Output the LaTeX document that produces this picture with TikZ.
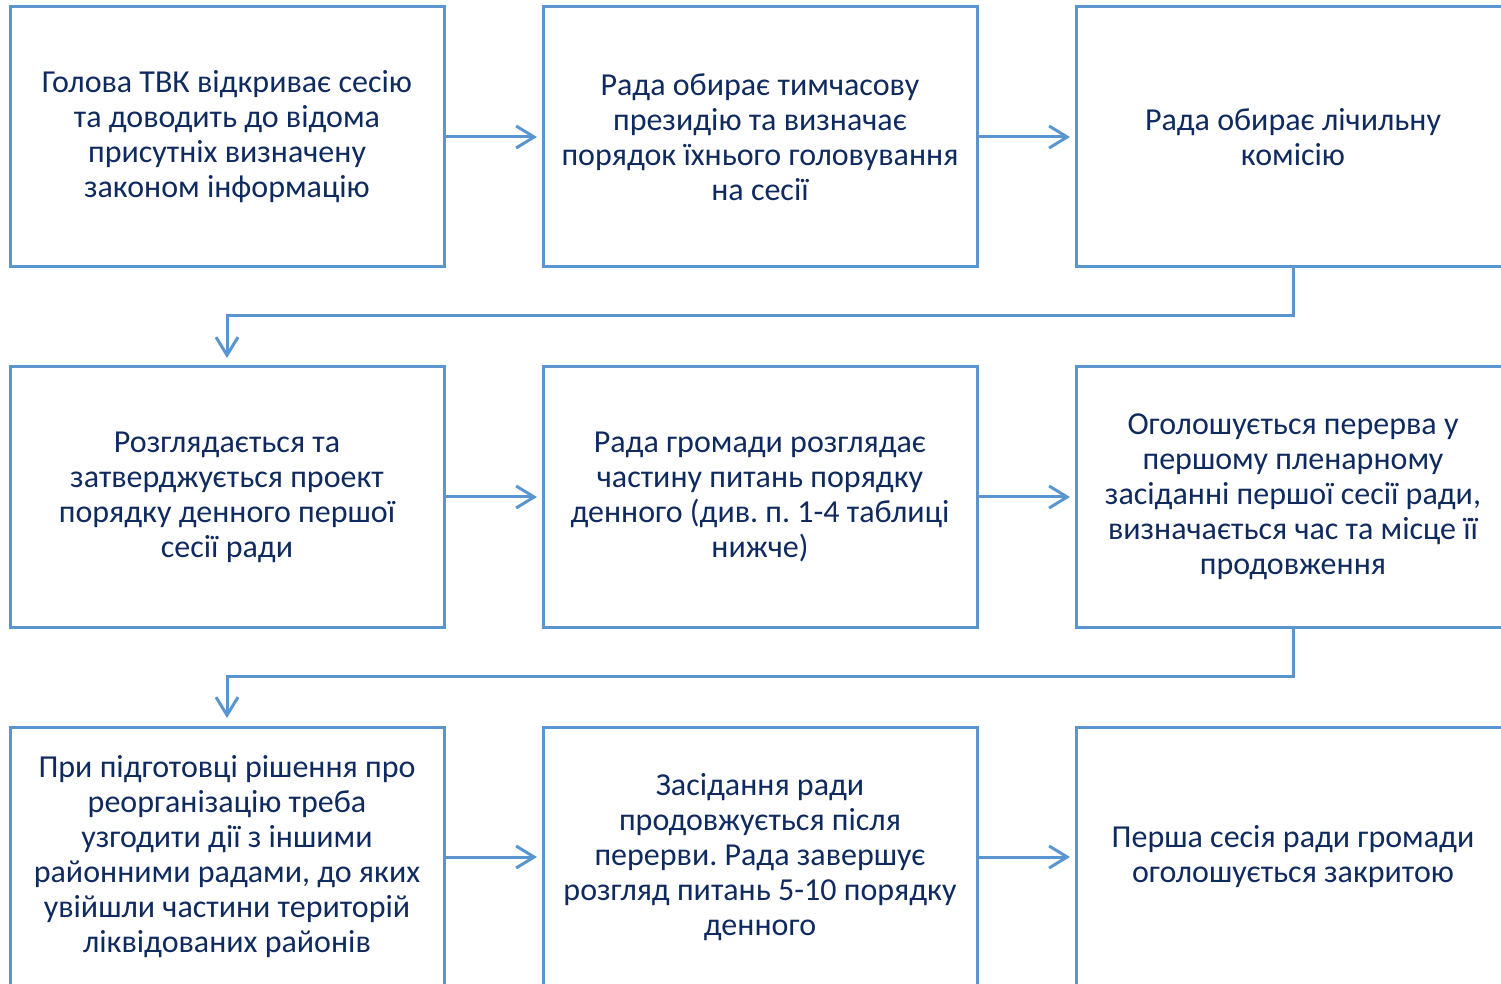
\documentclass[tikz,border=0pt]{standalone}
\usepackage{fontspec}
\setmainfont{Carlito}
\usetikzlibrary{positioning,arrows.meta}
\definecolor{lineblue}{HTML}{5B95D0}
\definecolor{textnavy}{HTML}{0F2A5E}
\tikzset{stage/.style={draw=lineblue,line width=1.5pt,minimum width=217pt,minimum height=130pt,outer sep=0pt,align=center,text=textnavy,font=\fontsize{16pt}{17.5pt}\selectfont\frenchspacing}}
\tikzset{link/.style={draw=lineblue,line width=1.5pt,-{Straight Barb[length=9pt,width=11pt]},shorten >=3pt}}

\begin{document}
\begin{tikzpicture}[x=0.5pt,y=-0.5pt]
        \useasboundingbox (0,0) rectangle (1501,984);
        \clip (0,0) rectangle (1501,984);
        \node[stage] (open) at (227,137) {Голова ТВК відкриває сесію\\та доводить до відома\\присутніх визначену\\законом інформацію};
        \node[stage,right=49.5pt of open] (presid) {Рада обирає тимчасову\\президію та визначає\\порядок їхнього головування\\на сесії};
            \path[link] (open) -- (presid);
        \node[stage,right=49.5pt of presid] (count) {Рада обирає лічильну\\комісію};
            \path[link] (presid) -- (count);
        \node[stage,below=50pt of open] (agenda) {Розглядається та\\затверджується проект\\порядку денного першої\\сесії ради};
            \path[link,shorten >=4.5pt] (count.south) -- ++(0,49) -| (agenda.north);
        \node[stage,right=49.5pt of agenda] (items) {Рада громади розглядає\\частину питань порядку\\денного (див. п. 1-4 таблиці\\нижче)};
            \path[link] (agenda) -- (items);
        \node[stage,right=49.5pt of items] (pause) {Оголошується перерва у\\першому пленарному\\засіданні першої сесії ради,\\визначається час та місце її\\продовження};
            \path[link] (items) -- (pause);
        \node[stage,below=50pt of agenda] (reorg) {При підготовці рішення про\\реорганізацію треба\\узгодити дії з іншими\\районними радами, до яких\\увійшли частини територій\\ліквідованих районів};
            \path[link,shorten >=4.5pt] (pause.south) -- ++(0,49) -| (reorg.north);
        \node[stage,right=49.5pt of reorg] (resume) {Засідання ради\\продовжується після\\перерви. Рада завершує\\розгляд питань 5-10 порядку\\денного};
            \path[link] (reorg) -- (resume);
        \node[stage,right=49.5pt of resume] (close) {Перша сесія ради громади\\оголошується закритою};
            \path[link] (resume) -- (close);
    \end{tikzpicture}
\end{document}
